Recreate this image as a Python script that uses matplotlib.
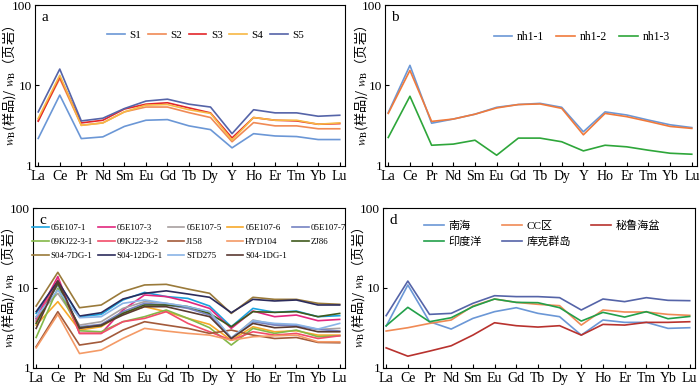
import matplotlib
matplotlib.use("Agg")
import matplotlib.pyplot as plt
from matplotlib.ticker import NullLocator, FixedLocator

plt.rcParams['font.family'] = ['Liberation Serif', 'Noto Sans CJK SC', 'DejaVu Sans']
plt.rcParams['mathtext.fontset'] = 'stix'

elements = ["La", "Ce", "Pr", "Nd", "Sm", "Eu", "Gd", "Tb", "Dy", "Y", "Ho", "Er", "Tm", "Yb", "Lu"]

# panel a
a_names = ["S1", "S2", "S3", "S4", "S5"]
a_colors = ["#6b97d6", "#f08a55", "#e3262a", "#f7b844", "#5564a8"]
a_values = [
    [2.2, 7.6, 2.19, 2.3, 3.1, 3.7, 3.77, 3.15, 2.83, 1.68, 2.52, 2.36, 2.32, 2.13, 2.13],
    [3.7, 12.2, 3.2, 3.43, 4.7, 5.4, 5.4, 4.6, 4.0, 2.0, 3.46, 3.15, 3.15, 2.9, 2.9],
    [3.6, 12.8, 3.43, 3.7, 5.1, 5.86, 6.1, 5.27, 4.57, 2.23, 4.0, 3.7, 3.63, 3.3, 3.36],
    [3.9, 13.4, 3.2, 3.43, 4.7, 5.7, 5.8, 5.0, 4.5, 2.1, 4.0, 3.7, 3.7, 3.3, 3.43],
    [4.7, 16.0, 3.63, 3.92, 5.17, 6.4, 6.76, 5.86, 5.4, 2.52, 5.0, 4.57, 4.57, 4.15, 4.27],
]

# panel b
b_names = ["nh1-1", "nh1-2", "nh1-3"]
b_colors = ["#6b97d6", "#f07a3c", "#2ea63a"]
b_values = [
    [4.6, 17.8, 3.4, 3.83, 4.4, 5.36, 5.8, 6.0, 5.36, 2.66, 4.7, 4.3, 3.72, 3.25, 3.0],
    [4.5, 15.4, 3.58, 3.83, 4.4, 5.26, 5.8, 5.9, 5.2, 2.44, 4.5, 4.1, 3.58, 3.1, 2.93],
    [2.26, 7.35, 1.81, 1.87, 2.09, 1.36, 2.22, 2.22, 2.0, 1.54, 1.81, 1.73, 1.57, 1.44, 1.4],
]

# panel c
c_names = ["05E107-1", "05E107-3", "05E107-5", "05E107-6", "05E107-7",
           "09KJ22-3-1", "09KJ22-3-2", "J158", "HYD104", "ZJ86",
           "S04-7DG-1", "S04-12DG-1", "STD275", "S04-1DG-1"]
c_colors = ["#1aa3e0", "#e2277e", "#a8a0a0", "#f7a92a", "#7683c2",
            "#84b848", "#f24d6a", "#a35a3a", "#f49a66", "#3f5a1c",
            "#9a7a3a", "#2c2c5c", "#8ab4e6", "#5a3a32"]
c_values = [
    [4.8, 12.0, 4.37, 4.67, 7.07, 8.8, 7.8, 7.4, 5.94, 3.27, 5.55, 4.95, 5.14, 4.37, 4.5],
    [4.16, 13.9, 2.7, 2.7, 5.3, 8.17, 7.8, 6.74, 5.55, 3.12, 5.14, 4.37, 4.58, 3.89, 4.04],
    [4.37, 8.57, 3.43, 3.78, 5.55, 6.74, 6.42, 5.83, 5.05, 2.33, 3.97, 3.5, 3.43, 3.03, 3.12],
    [3.43, 6.74, 2.97, 3.27, 4.8, 5.83, 5.05, 4.16, 3.5, 2.22, 3.27, 2.83, 2.91, 2.57, 2.57],
    [3.97, 10.9, 3.27, 3.5, 5.05, 6.42, 6.12, 5.55, 4.58, 2.33, 3.78, 3.43, 3.36, 3.03, 2.89],
    [2.4, 9.9, 2.91, 2.83, 3.78, 4.37, 5.3, 4.16, 3.18, 1.93, 3.12, 2.7, 2.97, 2.45, 2.52],
    [3.78, 12.6, 2.7, 2.7, 3.78, 4.16, 5.05, 3.6, 2.83, 2.22, 2.83, 2.57, 2.7, 2.33, 2.52],
    [1.84, 5.05, 1.93, 2.12, 2.97, 3.78, 3.43, 3.12, 2.7, 2.97, 2.57, 2.33, 2.4, 2.08, 2.06],
    [1.78, 4.67, 1.51, 1.67, 2.33, 3.12, 2.89, 2.7, 2.57, 2.22, 2.45, 2.52, 2.57, 2.12, 2.12],
    [3.6, 11.4, 3.18, 3.36, 4.8, 6.12, 6.12, 5.83, 4.8, 3.27, 5.05, 4.95, 5.05, 4.37, 4.8],
    [5.94, 15.7, 5.66, 6.12, 9.0, 10.9, 11.1, 9.7, 8.57, 4.8, 7.64, 7.2, 7.2, 6.42, 6.24],
    [5.05, 12.2, 4.45, 4.9, 7.27, 8.57, 9.2, 8.4, 7.64, 4.9, 7.2, 6.87, 7.07, 6.12, 6.12],
    [4.37, 9.4, 4.24, 4.37, 6.42, 7.07, 6.42, 5.83, 5.05, 2.38, 3.89, 3.6, 3.5, 3.06, 3.6],
    [3.12, 12.2, 3.12, 3.43, 4.58, 5.83, 5.83, 5.05, 4.37, 2.33, 3.6, 3.18, 3.27, 2.83, 2.83],
]

# panel d
d_names = ["南海", "CC区", "秘鲁海盆", "印度洋", "库克群岛"]
d_colors = ["#6b97d6", "#f08a55", "#b8322e", "#22a04a", "#5564a8"]
d_values = [
    [3.33, 10.9, 3.78, 3.06, 4.16, 5.05, 5.66, 4.81, 4.37, 2.57, 3.97, 3.71, 3.71, 3.12, 3.18],
    [2.89, 3.18, 3.6, 3.97, 5.94, 7.27, 6.6, 6.24, 6.0, 3.43, 5.3, 5.0, 5.0, 4.67, 4.54],
    [1.78, 1.4, 1.62, 1.89, 2.57, 3.67, 3.37, 3.24, 3.37, 2.57, 3.5, 3.43, 3.71, 3.71, 3.78],
    [3.36, 5.72, 3.78, 4.24, 5.83, 7.27, 6.6, 6.54, 5.66, 3.85, 4.95, 4.32, 5.05, 4.12, 4.4],
    [4.5, 12.2, 4.67, 4.81, 6.42, 8.0, 7.79, 7.79, 7.56, 5.3, 7.27, 6.74, 7.56, 7.0, 6.93],
]

ylab = r'$w_{\mathrm{B}}$(样品)/ $w_{\mathrm{B}}$（页岩）'

fig = plt.figure(figsize=(7, 3.86), dpi=100)
axa = fig.add_axes([0.05, 0.57, 0.443, 0.417])
axb = fig.add_axes([0.55, 0.57, 0.446, 0.417])
axc = fig.add_axes([0.047, 0.047, 0.446, 0.414])
axd = fig.add_axes([0.547, 0.047, 0.446, 0.414])

# axes, tag, names, colours, values, ncol, legend anchor, ylabel x (right edge), legend fontsize
panels = [
    (axa, "a", a_names, a_colors, a_values, 5, (0.55, 0.87), -0.055, 8),
    (axb, "b", b_names, b_colors, b_values, 3, (0.63, 0.87), -0.048, 8.5),
    (axc, "c", c_names, c_colors, c_values, 5, (0.5, 0.925), -0.052, 6.4),
    (axd, "d", d_names, d_colors, d_values, 3, (0.51, 0.95), -0.051, 8),
]


def row_major(items, ncol):
    # matplotlib fills legend columns first; reorder so rows read left to right
    rows = [items[i:i + ncol] for i in range(0, len(items), ncol)]
    out = []
    for c in range(ncol):
        for r in rows:
            if c < len(r):
                out.append(r[c])
    return out


x = list(range(len(elements)))
for ax, tag, names, colors, values, ncol, anchor, ylx, lfs in panels:
    lines = []
    for name, col, vals in zip(names, colors, values):
        ln, = ax.plot(x, vals, color=col, lw=1.2, label=name)
        lines.append(ln)
    ax.set_yscale('log')
    ax.set_ylim(1, 100)
    ax.set_xlim(-0.15, 14.25)
    ax.yaxis.set_major_locator(FixedLocator([1, 10, 100]))
    ax.yaxis.set_minor_locator(NullLocator())
    ax.set_yticklabels(["1", "10", "100"])
    ax.set_xticks(x)
    ax.set_xticklabels(elements)
    ax.tick_params(direction='in', length=3, pad=3)
    ax.tick_params(axis='x', labelsize=10)
    ax.tick_params(axis='y', labelsize=9.5, pad=2)
    ax.set_ylabel(ylab, fontsize=9.5, family=['Noto Sans CJK SC'])
    ax.yaxis.set_label_coords(ylx, 0.5)
    ax.text(0.02, 0.96, tag, transform=ax.transAxes, fontsize=11, va='top')
    handles = row_major(lines, ncol)
    labels = [h.get_label() for h in handles]
    if tag == "c":
        ax.legend(handles, labels, ncol=ncol, loc='upper center', bbox_to_anchor=anchor,
                  frameon=False, fontsize=lfs, handlelength=1.9, handletextpad=0.2,
                  columnspacing=0.55, labelspacing=0.65, borderaxespad=0)
    elif tag == "d":
        ax.legend(handles, labels, ncol=ncol, loc='upper center', bbox_to_anchor=anchor,
                  frameon=False, fontsize=lfs, handlelength=1.8, handletextpad=0.4,
                  columnspacing=1.8, labelspacing=0.45, borderaxespad=0)
    else:
        ax.legend(handles, labels, ncol=ncol, loc='upper center', bbox_to_anchor=anchor,
                  frameon=False, fontsize=lfs, handlelength=1.6, handletextpad=0.4,
                  columnspacing=0.6 if tag == "a" else 1.0, labelspacing=0.6, borderaxespad=0)

fig.savefig("out.png", dpi=100)
